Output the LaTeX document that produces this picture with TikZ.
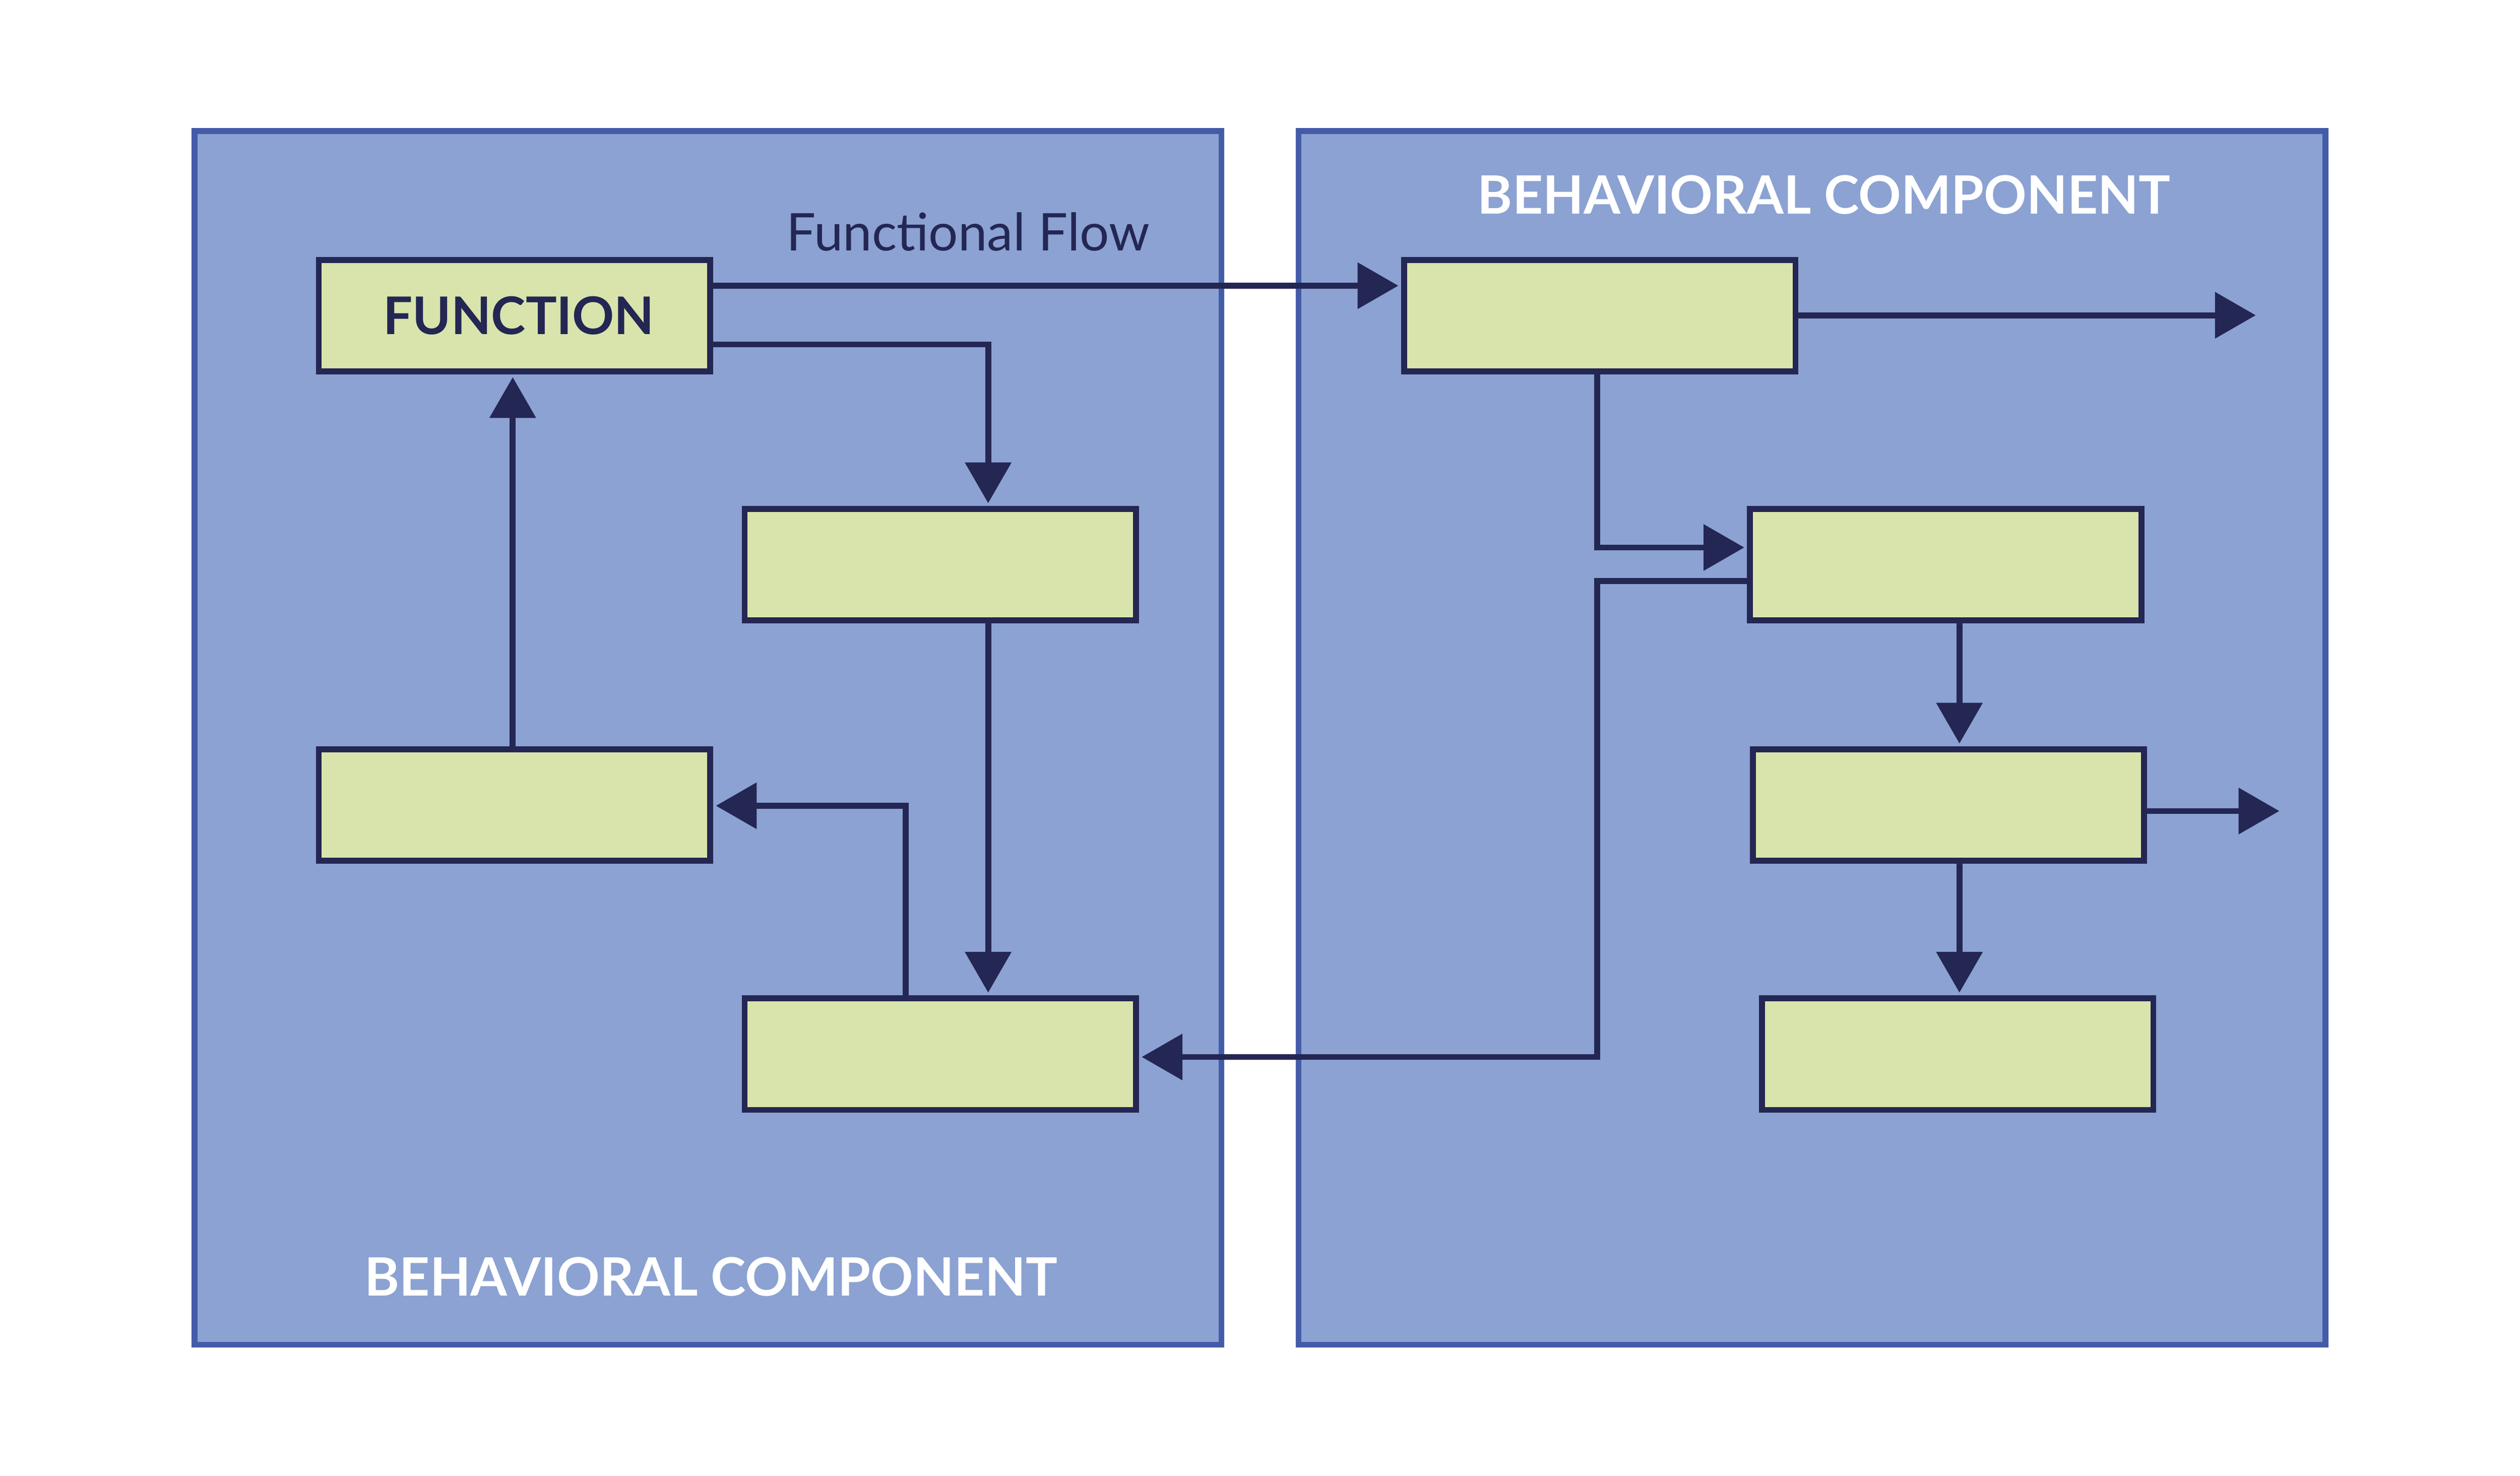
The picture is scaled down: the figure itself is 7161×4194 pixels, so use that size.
\documentclass[tikz,border=0pt]{standalone}
\usepackage{fontspec}
\setmainfont{Lato}
\usetikzlibrary{arrows.meta}
\definecolor{panelfill}{HTML}{8BA2D2}
\definecolor{paneledge}{HTML}{445CA8}
\definecolor{boxfill}{HTML}{D8E4AB}
\definecolor{navy}{HTML}{242653}
\begin{document}
\begin{tikzpicture}[x=0.05mm,y=-0.05mm,
        panel/.style={draw=paneledge,fill=panelfill,line width=2.35pt},
        block/.style={draw=navy,fill=boxfill,line width=2.4pt,minimum width=55.6mm,minimum height=15.85mm,inner sep=0pt,text=navy,font=\fontsize{21}{25}\selectfont\bfseries},
        flow/.style={draw=navy,line width=2.4pt,shorten >=1.2pt,-{Triangle[length=16.4pt,width=18.9pt,line width=0pt]}},
        title/.style={text=white,font=\fontsize{21.4}{25}\selectfont\bfseries,anchor=base}]
        \useasboundingbox (0,0) rectangle (7161,4194);
        %% Components
        \draw[panel] (553,372) rectangle (3471,3822);
        \draw[panel] (3690,372) rectangle (6608,3822);
        \node[title] at (2020,3683) {BEHAVIORAL COMPONENT};
        \node[title] at (5183,608) {BEHAVIORAL COMPONENT};
        \node[text=navy,font=\fontsize{21}{25}\selectfont,anchor=base] at (2751,713) {Functional Flow};
        %% Functions
        \node[block] (func) at (1462,897) {\hspace{1.2mm}FUNCTION};
        \node[block] (left2) at (2672,1605) {};
        \node[block] (left3) at (1462,2288) {};
        \node[block] (left4) at (2672,2996) {};
        \node[block] (right1) at (4546,897) {};
        \node[block] (right2) at (5529,1605) {};
        \node[block] (right3) at (5537,2288) {};
        \node[block] (right4) at (5563,2996) {};
        \coordinate (out1) at (6418,896);
        \coordinate (out3) at (6485,2305);
        %% Left flows
        \draw[flow] (func.east |- 0,812) -- (right1.west |- 0,812);
        \draw[flow] (func.east |- 0,979) -| (left2.north -| 2808,0);
        \draw[flow] (left2.south -| 2808,0) -- (left4.north -| 2808,0);
        \draw[flow] (left4.north -| 2574,0) |- (left3.east |- 0,2290);
        \draw[flow] (left3.north -| 1457,0) -- (func.south -| 1457,0);
        %% Right flows
        \draw[flow] (right1.east |- out1) -- (out1);
        \draw[flow] (right1.south -| 4539,0) |- (right2.west |- 0,1556);
        \draw[flow] (right2.west |- 0,1651) -| (4539,3004) -- (left4.east |- 0,3004);
        \draw[flow] (right2.south -| 5568,0) -- (right3.north -| 5568,0);
        \draw[flow] (right3.east |- out3) -- (out3);
        \draw[flow] (right3.south -| 5568,0) -- (right4.north -| 5568,0);
    \end{tikzpicture}
\end{document}
